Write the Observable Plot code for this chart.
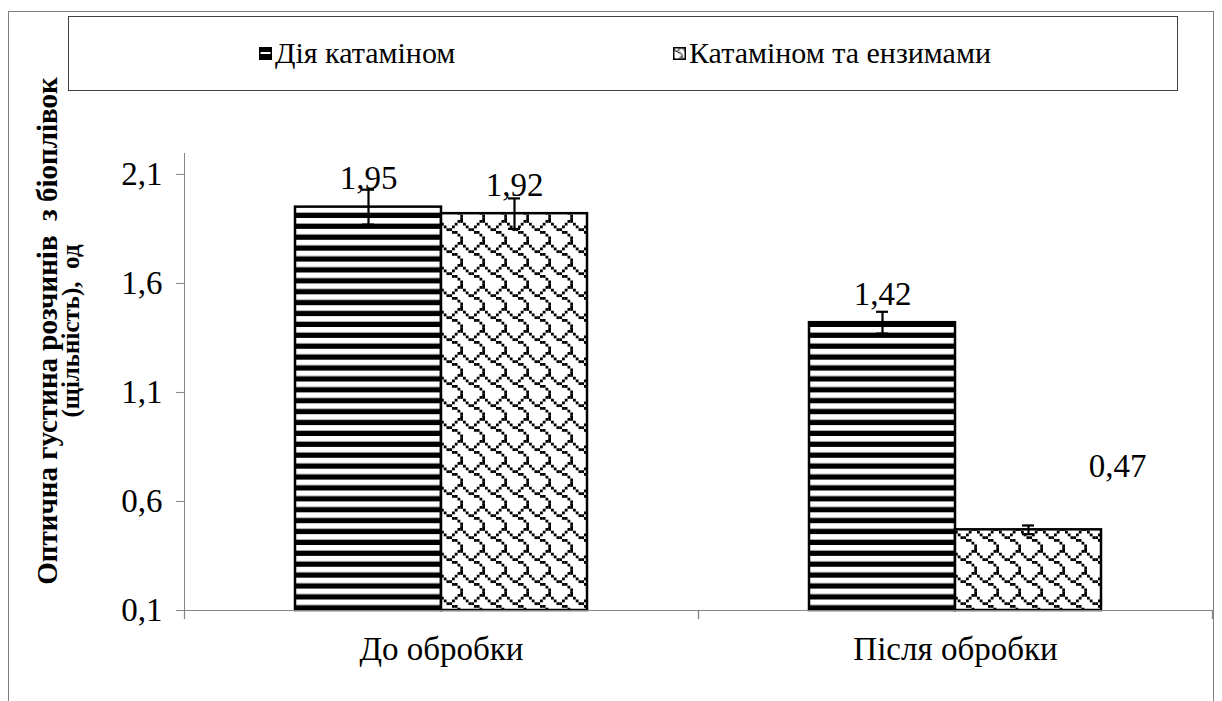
<!DOCTYPE html>
<html>
<head>
<meta charset="utf-8">
<script src="https://cdn.jsdelivr.net/npm/d3@7"></script>
<script src="https://cdn.jsdelivr.net/npm/@observablehq/plot@0.6"></script>
<style>
  body { margin: 0; background: #fff; overflow: hidden; }
  #wrap { position: relative; width: 1222px; height: 701px; overflow: hidden; font-family: "Liberation Serif", "Times New Roman", serif; }
  #outer { position: absolute; left: 8px; top: 11px; width: 1206px; height: 720px; border: 1px solid #7f7f7f; box-sizing: border-box; }
  #legend { position: absolute; left: 68px; top: 16px; width: 1110px; height: 75px; border: 1px solid #404040; box-sizing: border-box; background: #fff; z-index: 2; }
  .item { position: absolute; top: 18px; height: 36px; display: flex; align-items: center; font-size: 30px; color: #000; white-space: nowrap; font-family: "Liberation Serif", serif; }
  .item svg { margin-right: 3px; }
  #ytitle { position: absolute; left: -241px; top: 307px; width: 600px; height: 48px; transform: rotate(-90deg); transform-origin: 50% 50%; text-align: center; font-weight: bold; font-size: 29px; color: #000; white-space: pre; font-family: "Liberation Serif", serif; }
  #ytitle div { height: 24px; line-height: 24px; }
  #ytitle div.l2 { font-size: 25px; }
  #chart { position: absolute; left: 0; top: 0; }
  #chart text { fill: #000; }
</style>
</head>
<body>
<div id="wrap">
  <div id="outer"></div>
  <div id="legend"></div>
  <div id="ytitle"></div>
  <div id="chart"></div>
</div>
<script>
// ---- data ----
const categories = ["До обробки", "Після обробки"];
const seriesNames = ["Дія катаміном", "Катаміном та ензимами"];
const valuesKatamin = [1.95, 1.42];
const valuesEnzymes = [1.92, 0.47];
const errorsKatamin = [0.08, 0.05];
const errorsEnzymes = [0.07, 0.02];
const yTicks = [0.1, 0.6, 1.1, 1.6, 2.1];
const yTitleLines = ["Оптична густина розчинів  з біоплівок", "(щільність),  од"];

const comma = (f) => (v) => f(v).replace(".", ",");
const fmtVal = comma(d3.format(".2f"));
const fmtTick = comma(d3.format(".1f"));

const rows = [];
categories.forEach((c, i) => {
  rows.push({category: c, series: seriesNames[0], value: valuesKatamin[i], err: errorsKatamin[i]});
  rows.push({category: c, series: seriesNames[1], value: valuesEnzymes[i], err: errorsEnzymes[i]});
});
const s0 = rows.filter(d => d.series === seriesNames[0]);
const s1 = rows.filter(d => d.series === seriesNames[1]);
const lastRow = rows[rows.length - 1];

// ---- fill patterns (Excel-like hatches) ----
const shingle = ["......XX", "X....X..", ".X..X...", "..XX....", "....XX..", "......X.", ".......X", ".......X"];
const defsSvg = d3.select("body").append("svg").attr("width", 0).attr("height", 0).style("position", "absolute");
const defs = defsSvg.append("defs");
const stripes = defs.append("pattern").attr("id", "stripes").attr("patternUnits", "userSpaceOnUse").attr("width", 20).attr("height", 10.9);
stripes.append("rect").attr("width", 20).attr("height", 10.9).attr("fill", "#fff");
stripes.append("rect").attr("y", 5.6).attr("width", 20).attr("height", 5.3).attr("fill", "#000");
function shinglePattern(id, s) {
  const p = defs.append("pattern").attr("id", id).attr("patternUnits", "userSpaceOnUse").attr("width", 8 * s).attr("height", 8 * s);
  p.append("rect").attr("width", 8 * s).attr("height", 8 * s).attr("fill", "#fff");
  shingle.forEach((row, r) => row.split("").forEach((ch, c) => {
    if (ch === "X") p.append("rect").attr("x", c * s).attr("y", r * s).attr("width", s + 0.05).attr("height", s + 0.05).attr("fill", "#000");
  }));
}
shinglePattern("shingle", 2.75);
shinglePattern("shingleSmall", 1.2);
const smallStripes = defs.append("pattern").attr("id", "stripesSmall").attr("patternUnits", "userSpaceOnUse").attr("width", 4).attr("height", 12);
smallStripes.append("rect").attr("width", 4).attr("height", 12).attr("fill", "#000");
smallStripes.append("rect").attr("y", 5).attr("width", 4).attr("height", 2).attr("fill", "#fff");

// ---- legend ----
const legend = d3.select("#legend");
const fills = ["url(#stripesSmall)", "url(#shingleSmall)"];
const legendLeft = [190, 604];
seriesNames.forEach((name, i) => {
  const it = legend.append("div").attr("class", "item").style("left", legendLeft[i] + "px");
  const sw = it.append("svg").attr("width", 13).attr("height", 13);
  sw.append("rect").attr("x", 0.75).attr("y", 0.75).attr("width", 11.5).attr("height", 11.5).attr("fill", fills[i]).attr("stroke", "#000").attr("stroke-width", 1.5);
  it.append("span").text(name);
});

// ---- y title ----
const yt = d3.select("#ytitle");
yTitleLines.forEach((line, i) => yt.append("div").attr("class", "l" + (i + 1)).text(line));

// ---- chart ----
const chart = Plot.plot({
  width: 1222,
  height: 701,
  marginTop: 153,
  marginBottom: 91,
  marginLeft: 183,
  marginRight: 10,
  style: {fontFamily: "'Liberation Serif', 'Times New Roman', serif", fontSize: "33px", background: "transparent", color: "#868686", overflow: "visible"},
  fx: {domain: categories, padding: 0, axis: "bottom", tickSize: 0, tickPadding: 26, label: null},
  x: {domain: seriesNames, paddingInner: 0, paddingOuter: 0.75, axis: null},
  y: {domain: [0.1, 2.196], ticks: yTicks, tickFormat: fmtTick, tickSize: 8, tickPadding: 14, line: true, label: null},
  marks: [
    Plot.barY(s0, {fx: "category", x: "series", y1: 0.1, y2: "value", fill: "url(#stripes)", stroke: "#000", strokeWidth: 2.5}),
    Plot.barY(s1, {fx: "category", x: "series", y1: 0.1, y2: "value", fill: "url(#shingle)", stroke: "#000", strokeWidth: 2.5}),
    Plot.ruleY([0.1], {stroke: "#868686", strokeWidth: 1.2}),
    Plot.frame({anchor: "left", insetTop: 457, insetBottom: -8, stroke: "#868686", strokeWidth: 1.2}),
    Plot.frame({anchor: "right", insetTop: 457, insetBottom: -8, stroke: "#868686", strokeWidth: 1.2}),
    Plot.ruleX(rows, {fx: "category", x: "series", y1: d => d.value - d.err, y2: d => d.value + d.err, stroke: "#000", strokeWidth: 2.2}),
    Plot.tickY(rows, {fx: "category", x: "series", y: d => d.value - d.err, insetLeft: 67, insetRight: 67, stroke: "#000", strokeWidth: 2.2}),
    Plot.tickY(rows, {fx: "category", x: "series", y: d => d.value + d.err, insetLeft: 67, insetRight: 67, stroke: "#000", strokeWidth: 2.2}),
    Plot.text(rows.filter(d => d !== lastRow), {fx: "category", x: "series", y: "value", text: d => fmtVal(d.value), lineAnchor: "bottom", dy: -18, fill: "#000"}),
    Plot.text([lastRow], {fx: "category", x: "series", y: "value", text: d => fmtVal(d.value), lineAnchor: "bottom", dx: 89, dy: -53, fill: "#000"})
  ]
});
document.getElementById("chart").appendChild(chart);
</script>
</body>
</html>
